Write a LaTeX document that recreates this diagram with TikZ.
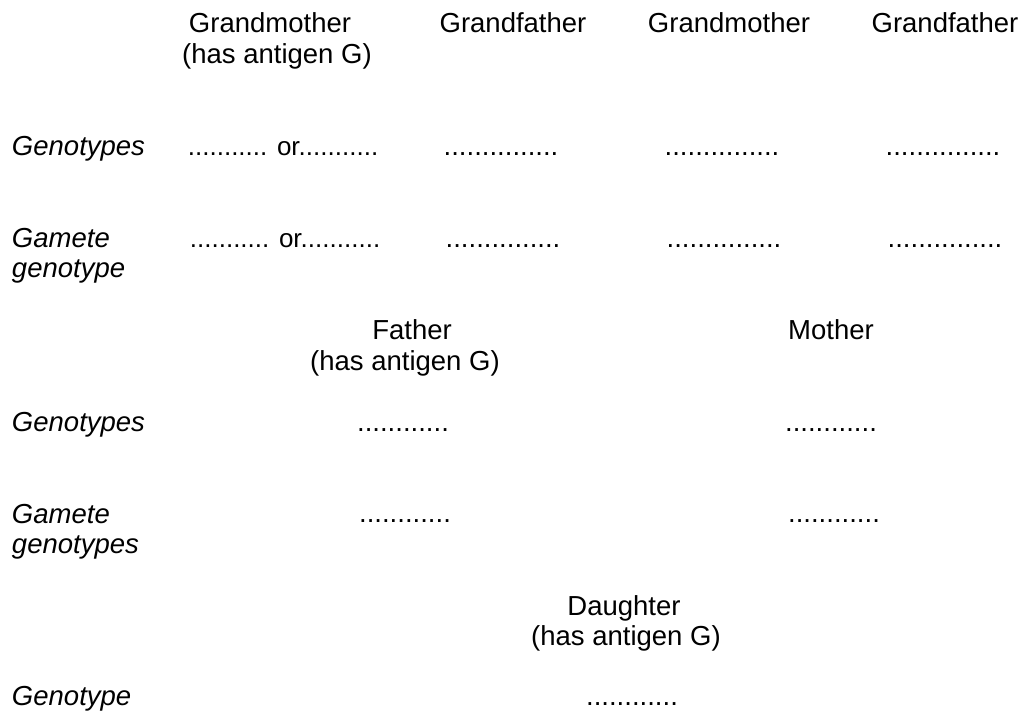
\documentclass[tikz,border=0pt]{standalone}
\usepackage{fontspec}
\setmainfont{Liberation Sans}
\begin{document}
\begin{tikzpicture}[x=1pt,y=-1pt,
  txt/.style={inner sep=0pt,outer sep=0pt,anchor=base,font=\fontsize{27.5}{31.6}\selectfont},
  ortxt/.style={inner sep=0pt,outer sep=0pt,anchor=base,font=\fontsize{26}{30}\selectfont},
  lbl/.style={inner sep=0pt,outer sep=0pt,anchor=base west,font=\fontsize{27.5}{31.6}\selectfont\itshape}]
\useasboundingbox (0,0) rectangle (1023,712);
% Grandparents
\node[txt] (gm1) at (270,32) {Grandmother};
\node[txt] (gm1b) at (277,63) {(has antigen G)};
\node[txt] (gf1) at (513,32) {Grandfather};
\node[txt] (gm2) at (729,32) {Grandmother};
\node[txt] (gf2) at (945,32) {Grandfather};
% Genotypes row
\node[lbl] (l1) at (12,155) {Genotypes};
\node[ortxt] (g1) at (283,155) {........... or...........};
\node[txt] (g2) at (501,155) {...............};
\node[txt] (g3) at (722,155) {...............};
\node[txt] (g4) at (943,155) {...............};
% Gamete row
\node[lbl] (l2) at (12,247) {Gamete};
\node[lbl] (l2b) at (12,277) {genotype};
\node[ortxt] (m1) at (285,247) {........... or...........};
\node[txt] (m2) at (503,247) {...............};
\node[txt] (m3) at (724,247) {...............};
\node[txt] (m4) at (945,247) {...............};
% Parents
\node[txt] (fa) at (412,339) {Father};
\node[txt] (fab) at (405,370) {(has antigen G)};
\node[txt] (mo) at (831,339) {Mother};
\node[lbl] (l3) at (12,431) {Genotypes};
\node[txt] (pg1) at (403,431) {............};
\node[txt] (pg2) at (831,431) {............};
\node[lbl] (l4) at (12,523) {Gamete};
\node[lbl] (l4b) at (12,553) {genotypes};
\node[txt] (pm1) at (405,522) {............};
\node[txt] (pm2) at (834,522) {............};
% Daughter
\node[txt] (da) at (624,615) {Daughter};
\node[txt] (dab) at (626,645) {(has antigen G)};
\node[lbl] (l5) at (12,705) {Genotype};
\node[txt] (dg) at (632,705) {............};
\end{tikzpicture}
\end{document}
